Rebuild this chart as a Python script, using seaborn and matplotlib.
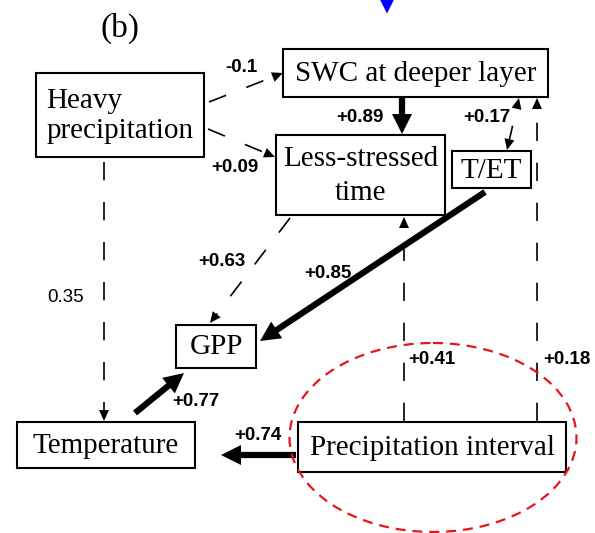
import matplotlib
matplotlib.use("Agg")
import matplotlib.pyplot as plt
from matplotlib.patches import Rectangle, Ellipse
import numpy as np
import seaborn as sns

# Nodes of the path diagram
node_ids = ["heavy", "swc", "less", "tet", "gpp", "temp", "pint"]
node_labels = ["Heavy\nprecipitation", "SWC at deeper layer", "Less-stressed\ntime",
               "T/ET", "GPP", "Temperature", "Precipitation interval"]

# Paths with standardized coefficients
edge_from = ["heavy", "heavy", "heavy", "swc", "tet", "pint", "pint", "tet", "less", "temp", "pint"]
edge_to = ["swc", "less", "temp", "less", "swc", "swc", "less", "gpp", "gpp", "gpp", "temp"]
edge_coef = ["-0.1", "+0.09", "0.35", "+0.89", "+0.17", "+0.18", "+0.41", "+0.85", "+0.63", "+0.77", "+0.74"]
edge_signif = [False, False, False, True, False, False, False, True, False, True, True]

# Layout in pixels (y runs downward)
boxes = {
    "heavy": (36, 73, 204, 157),
    "swc": (283, 49, 548, 97),
    "less": (276, 135, 445, 215),
    "tet": (452, 151, 531, 188),
    "gpp": (176, 325, 256, 368),
    "temp": (17, 422, 195, 468),
    "pint": (298, 422, 566, 472),
}
paths = {
    ("heavy", "swc"): ((209, 102), (283, 73)),
    ("heavy", "less"): ((208, 129), (275, 157)),
    ("heavy", "temp"): ((104, 162), (104, 421)),
    ("swc", "less"): ((402, 98), (402, 134)),
    ("tet", "swc"): ((507, 150), (519, 98)),
    ("pint", "swc"): ((537, 421), (537, 98)),
    ("pint", "less"): ((404, 421), (404, 217)),
    ("tet", "gpp"): ((485, 192), (260, 341)),
    ("less", "gpp"): ((290, 218), (210, 323)),
    ("temp", "gpp"): ((135, 413), (184, 373)),
    ("pint", "temp"): ((296, 455), (221, 455)),
}
label_pos = {
    ("heavy", "swc"): (241, 67),
    ("heavy", "less"): (235, 167),
    ("heavy", "temp"): (66, 297),
    ("swc", "less"): (360, 117),
    ("tet", "swc"): (487, 117),
    ("pint", "swc"): (567, 360),
    ("pint", "less"): (432, 360),
    ("tet", "gpp"): (328, 273),
    ("less", "gpp"): (222, 261),
    ("temp", "gpp"): (196, 401),
    ("pint", "temp"): (258, 436),
}
both_heads = [("tet", "swc")]

sns.set_theme(style="white")
plt.rcParams['font.family'] = ['Liberation Serif', 'DejaVu Serif']
plt.rcParams['text.color'] = 'black'

fig = plt.figure(figsize=(5.95, 5.33), dpi=100)
ax = fig.add_axes([0, 0, 1, 1])

PT = 0.72  # points per pixel at 100 dpi


def draw_head(tip, start, length, width):
    tip = np.array(tip, float)
    d = tip - np.array(start, float)
    d /= np.hypot(*d)
    back = tip - d * length * 1.02
    ax.annotate("", xy=tuple(tip), xytext=tuple(back),
                arrowprops=dict(arrowstyle=f"simple,head_length={length * PT},head_width={width * PT},tail_width=0.01",
                                mutation_scale=1, color="black", lw=0, shrinkA=0, shrinkB=0))


for src, dst, coef, sig in zip(edge_from, edge_to, edge_coef, edge_signif):
    (x0, y0), (x1, y1) = paths[(src, dst)]
    d = np.array([x1 - x0, y1 - y0], float)
    d /= np.hypot(*d)
    if sig:
        hl, hw = 20, 20
        xe, ye = x1 - d[0] * hl * 0.8, y1 - d[1] * hl * 0.8
        sns.lineplot(x=[x0, xe], y=[y0, ye], ax=ax, color="black", linewidth=4.5,
                     estimator=None, sort=False, legend=False, solid_capstyle="butt")
        draw_head((x1, y1), (x0, y0), hl, hw)
    else:
        hl, hw = 11, 10
        xs, ys = x0, y0
        if (src, dst) in both_heads:
            xs, ys = x0 + d[0] * hl * 0.6, y0 + d[1] * hl * 0.6
            draw_head((x0, y0), (x1, y1), hl, hw)
        xe, ye = x1 - d[0] * hl * 0.6, y1 - d[1] * hl * 0.6
        sns.lineplot(x=[xs, xe], y=[ys, ye], ax=ax, color="black", linewidth=1.2,
                     linestyle=(0, (11, 13)), estimator=None, sort=False, legend=False)
        draw_head((x1, y1), (x0, y0), hl, hw)
    lx, ly = label_pos[(src, dst)]
    ax.text(lx, ly, coef, ha="center", va="center", fontsize=13.5,
            fontweight="normal" if coef == "0.35" else "bold",
            family=["Liberation Sans", "DejaVu Sans"], color="black")

# Boxes
for nid, label in zip(node_ids, node_labels):
    bx0, by0, bx1, by1 = boxes[nid]
    ax.add_patch(Rectangle((bx0, by0), bx1 - bx0, by1 - by0, fill=True,
                           facecolor="white", edgecolor="black", lw=1.5, zorder=3))
    ax.text((bx0 + bx1) / 2, (by0 + by1) / 2 + 1, label, ha="center", va="center",
            multialignment="left" if nid == "heavy" else "center",
            fontsize=21, linespacing=1.45 if nid == "less" else 1.25,
            color="black", zorder=4)

# Highlight ellipse around precipitation interval
ax.add_patch(Ellipse((433, 437.5), 287, 189, fill=False, edgecolor="#e8141c",
                     lw=1.6, linestyle=(0, (4.5, 3.1)), zorder=5))

# Panel label and marker
ax.text(120, 28, "(b)", ha="center", va="center", fontsize=24, color="black")
sns.scatterplot(x=[387], y=[6], marker="v", s=120, color="#0000ff", edgecolor="none", ax=ax, legend=False)

ax.set_xlim(0, 595)
ax.set_ylim(533, 0)
ax.axis("off")
fig.savefig("out.png", dpi=100, facecolor="white")
